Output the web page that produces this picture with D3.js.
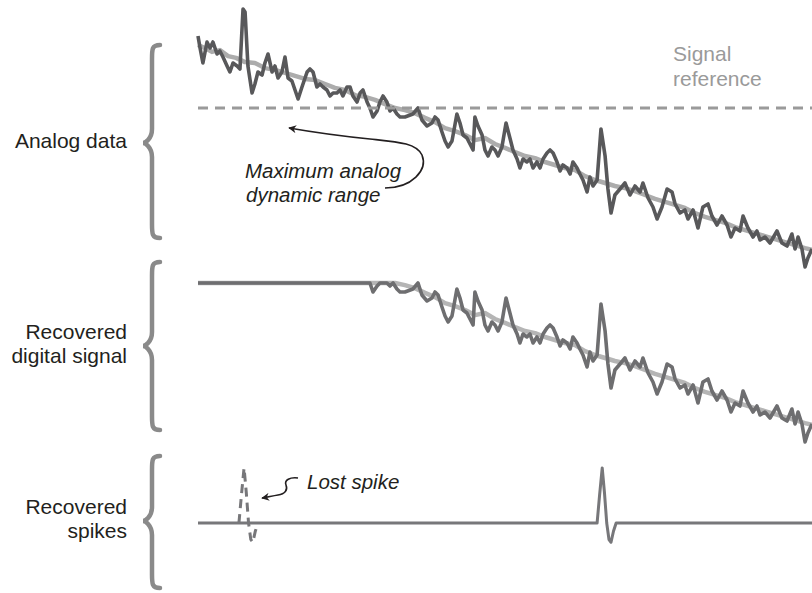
<!DOCTYPE html>
<html>
<head>
<meta charset="utf-8">
<script src="https://cdn.jsdelivr.net/npm/d3@7"></script>
<style>
  body { margin: 0; background: #fff; }
  svg { display: block; font-family: "Liberation Sans", Arial, sans-serif; }
</style>
</head>
<body>
<svg width="812" height="593"></svg>
<script>
// recorded analog trace (noisy, with spikes) [time, amplitude]
const analogTrace = [[0,88],[1,84],[2.4,79],[4.4,86],[5.9,84],[7.3,86],[9.3,82],[10.7,83],[12.2,81],[14.2,78],[15.6,76],[17.1,79],[19.1,78],[20.5,77],[22,97],[23,96],[24.4,78],[26.4,69],[27.8,72],[29.3,76],[31.3,75],[32.7,79],[34.2,82],[36.2,76],[37.6,78],[39.1,74],[41,76],[42.5,81],[44,74],[45.9,73],[47.4,70],[48.9,67],[50.8,71],[53.3,76],[54.7,77],[56.2,76],[58.1,71],[59.6,72],[61.1,71],[63,70],[64.5,68],[66,69],[67.9,69],[69.4,70],[70.8,68],[72.8,71],[74.3,71],[75.7,68],[77.7,66],[79.2,69],[80.6,70],[82.6,66],[84,64],[85.5,61],[87.5,63],[88.9,66],[90.4,68],[92.3,66],[93.8,63],[95.3,64],[97.2,62],[98.7,61],[101.1,61],[105,62],[107.5,64],[109.4,60],[111.9,58],[114.3,59],[115.8,61],[117.3,60],[119.2,56],[120.7,53],[122.2,51],[124.1,53],[126.5,62],[128,59],[129.5,55],[131.4,54],[132.9,52],[134.4,50],[135.3,61],[136.8,58],[138.8,55],[140.2,50],[141.7,48],[143.6,51],[145.1,50],[146.6,48],[148.5,51],[150.5,59],[152.4,54],[153.9,50],[155.9,47],[157.3,44],[158.8,47],[160.7,46],[162.2,47],[163.7,44],[165.6,46],[167.1,44],[168.6,47],[170.5,49],[172,50],[173.5,49],[175.4,46],[176.9,43],[178.3,45],[180.3,44],[181.8,42],[183.2,46],[185.2,44],[186.6,42],[188.1,40],[190.1,36],[191.5,41],[193,38],[195,40],[196.9,57],[198.9,48],[200.3,37],[201.8,29],[203.7,35],[206.2,37],[208.6,39],[211.1,35],[213.5,38],[216,36],[217.4,39],[219.9,34],[222.3,31],[224.3,27],[226.7,31],[229.2,37],[231.6,36],[233.1,32],[235.5,29],[237.9,30],[239.4,27],[241.9,30],[244.3,24],[246.7,31],[249.2,32],[251.1,28],[253.6,25],[256,28],[258.5,25],[260.4,21],[262.4,24],[264.8,23],[266.3,28],[268.7,24],[271.2,21],[273.1,23],[274.6,20],[277,21],[279.5,19],[282.9,23],[285.3,19],[287.8,18],[290.2,22],[291.7,17],[293.2,21],[295.1,17],[296.6,11],[298,14],[300,17]];

// slow underlying signal [time, amplitude]
const slowTrace = [[0,85],[3.4,84],[6.8,82.7],[10.7,83.3],[14.7,81.3],[18.6,80.7],[23,79.3],[27.8,79],[32.7,77.3],[37.6,76.7],[42.5,75.7],[47.4,74.7],[52.3,73.7],[57.2,73.3],[62.1,72],[66.9,70.7],[71.8,70],[76.7,68.3],[81.6,67.7],[86.5,66.7],[91.4,65.3],[96.3,64],[101.1,63.3],[106,62.3],[110.9,60.7],[115.8,59.3],[120.7,57.3],[125.6,56.3],[130.5,55],[135.3,53.3],[140.2,54],[145.1,52],[150,50.7],[154.9,49.3],[159.8,48],[164.7,47.3],[169.5,46],[174.4,45],[179.3,44],[184.2,43.3],[189.1,41.3],[194,40],[198.9,39],[203.7,38],[208.6,37.3],[213.5,36.3],[218.4,35],[223.3,33.7],[228.2,32.7],[233.1,31.7],[237.9,30.7],[242.8,29],[247.7,27.7],[252.6,26.7],[257.5,25.7],[262.4,24.3],[267.3,23.3],[272.2,22.3],[277,21.3],[281.9,20.3],[286.8,19.3],[291.7,18.3],[296.6,17.3],[300,16.7]];

const signalReference = 64;           // max analog dynamic range
const detectedSpikes = [197.5];       // spike peak times recovered
const lostSpikes = [22.5];            // spike lost by clipping
const spikeShape = [[-2.5,0],[-1.3,50],[0,100],[1.1,55],[2.2,0],[3.3,-30],[4.3,-35],[5.5,-15],[6.8,0]];

const panelLabels = [["Analog data"], ["Recovered", "digital signal"], ["Recovered", "spikes"]];

const svg = d3.select("svg");

const x = d3.scaleLinear().domain([0, 300]).range([198, 812]);
const yAnalog = d3.scaleLinear().domain([0, 100]).range([300, 0]);
const yDigital = d3.scaleLinear().domain([0, 100]).range([475, 175]);
const ySpike = d3.scaleLinear().domain([0, 100]).range([523, 468]);

const line = y => d3.line().x(d => x(d[0])).y(d => y(d[1]));
const clip = tr => tr.map(d => [d[0], Math.min(d[1], signalReference)]);

// braces + labels
const braces = [[45, 238, 143], [262, 430, 346], [456, 588, 521]];
function brace(bx, y0, y1, ym) {
  const tip = bx - 9;
  return `M${bx + 8},${y0} C${bx},${y0} ${bx},${y0 + 4} ${bx},${y0 + 14}
    L${bx},${ym - 14} C${bx},${ym - 4} ${tip + 2},${ym} ${tip},${ym}
    C${tip + 2},${ym} ${bx},${ym + 4} ${bx},${ym + 14}
    L${bx},${y1 - 14} C${bx},${y1 - 4} ${bx},${y1} ${bx + 8},${y1}`;
}
svg.append("g").selectAll("path")
  .data(braces)
  .join("path")
  .attr("d", d => brace(152, d[0], d[1], d[2]))
  .attr("fill", "none")
  .attr("stroke", "#8a8a8a")
  .attr("stroke-width", 4.5)
  .attr("stroke-linecap", "round");

svg.append("g").selectAll("text")
  .data(panelLabels)
  .join("text")
  .attr("text-anchor", "end")
  .attr("font-size", 21)
  .attr("fill", "#231f20")
  .each(function(d, i) {
    const t = d3.select(this);
    const mid = braces[i][2];
    const y0 = mid + 5 - (d.length - 1) * 12;
    d.forEach((s, j) => t.append("tspan").attr("x", 127).attr("y", y0 + j * 24).text(s));
  });

// panel 1: analog data
svg.append("path")
  .attr("d", line(yAnalog)(slowTrace))
  .attr("fill", "none").attr("stroke", "#acacac").attr("stroke-width", 4.5)
  .attr("stroke-linejoin", "round");
svg.append("path")
  .attr("d", line(yAnalog)(analogTrace))
  .attr("fill", "none").attr("stroke", "#58585a").attr("stroke-width", 3.6)
  .attr("stroke-linejoin", "round");

svg.append("line")
  .attr("x1", x(0)).attr("x2", x(300))
  .attr("y1", yAnalog(signalReference)).attr("y2", yAnalog(signalReference))
  .attr("stroke", "#9a9a9a").attr("stroke-width", 3)
  .attr("stroke-dasharray", "10,7");

svg.append("text")
  .attr("font-size", 21).attr("fill", "#9a9a9a")
  .selectAll("tspan").data(["Signal", "reference"]).join("tspan")
  .attr("x", 673).attr("y", (d, i) => 61 + i * 25).text(d => d);

// panel 2: recovered digital signal (clipped at reference)
svg.append("path")
  .attr("d", line(yDigital)(clip(slowTrace)))
  .attr("fill", "none").attr("stroke", "#b5b5b5").attr("stroke-width", 4.5)
  .attr("stroke-linejoin", "round");
svg.append("path")
  .attr("d", line(yDigital)(clip(analogTrace)))
  .attr("fill", "none").attr("stroke", "#6e6e70").attr("stroke-width", 3.6)
  .attr("stroke-linejoin", "round");

// panel 3: recovered spikes
const spikePts = [[0, 0]];
detectedSpikes.forEach(t => spikeShape.forEach(d => spikePts.push([t + d[0], d[1]])));
spikePts.push([300, 0]);
svg.append("path")
  .attr("d", line(ySpike)(spikePts))
  .attr("fill", "none").attr("stroke", "#77777a").attr("stroke-width", 3)
  .attr("stroke-linejoin", "round");
lostSpikes.forEach(t => {
  svg.append("path")
    .attr("d", line(ySpike)(spikeShape.map(d => [t + d[0], d[1]])))
    .attr("fill", "none").attr("stroke", "#77777a").attr("stroke-width", 3)
    .attr("stroke-dasharray", "9,6");
});

// annotations
const note = svg.append("g").attr("fill", "#231f20").attr("font-size", 20.5).attr("font-style", "italic");
note.append("text").attr("x", 245).attr("y", 178).text("Maximum analog");
note.append("text").attr("x", 246).attr("y", 202).text("dynamic range");
note.append("text").attr("x", 307).attr("y", 489).text("Lost spike");

svg.append("defs").append("marker")
  .attr("id", "ah").attr("viewBox", "0 0 10 10").attr("refX", 9).attr("refY", 5)
  .attr("markerWidth", 8).attr("markerHeight", 8).attr("orient", "auto-start-reverse")
  .attr("markerUnits", "userSpaceOnUse")
  .append("path").attr("d", "M0,0 L10,5 L0,10 L3,5 Z").attr("fill", "#231f20");

svg.append("path")
  .attr("d", "M385,188 C412,188 428,170 422,155 C416,143 398,142 370,139 C340,136 312,132 289,128")
  .attr("fill", "none").attr("stroke", "#231f20").attr("stroke-width", 1.6)
  .attr("marker-end", "url(#ah)");

svg.append("path")
  .attr("d", "M298,478 C290,477 284,480 286,485 C288,490 285,494 278,495 C272,496 268,497 262,498")
  .attr("fill", "none").attr("stroke", "#231f20").attr("stroke-width", 1.6)
  .attr("marker-end", "url(#ah)");
</script>
</body>
</html>
